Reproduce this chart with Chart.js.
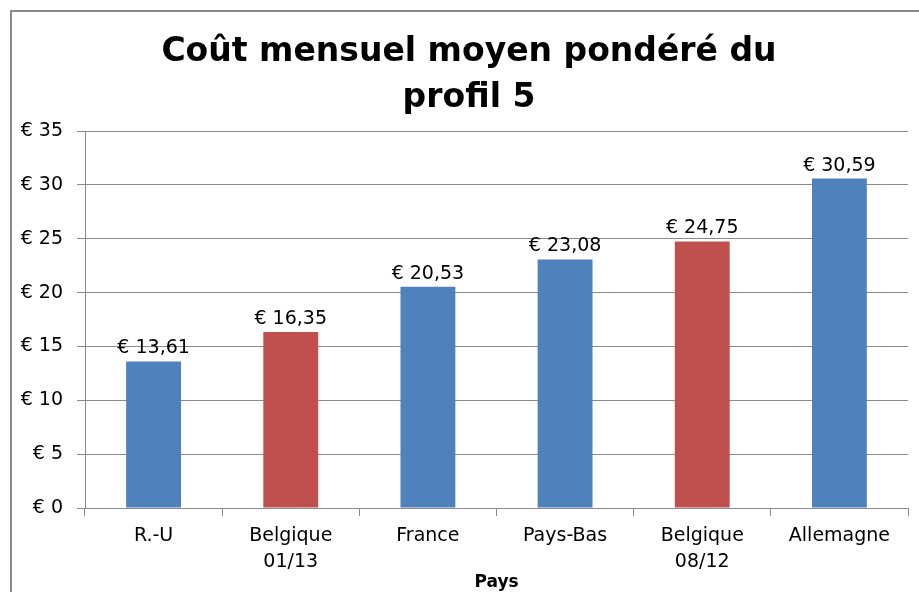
<!DOCTYPE html>
<html>
<head>
<meta charset="utf-8">
<script src="https://cdn.jsdelivr.net/npm/chart.js@4.4.0/dist/chart.umd.min.js"></script>
<style>
  html, body { margin: 0; padding: 0; background: #fff; }
  #wrap { position: relative; width: 919px; height: 592px; overflow: hidden; }
  #frame { position: absolute; left: 10px; top: 10px; width: 1000px; height: 700px;
           border-left: 2px solid #8a8a8a; border-top: 2px solid #8a8a8a; }
  canvas { position: absolute; left: 0; top: 0; }
</style>
</head>
<body>
<div id="wrap">
  <div id="frame"></div>
  <canvas id="c" width="919" height="592"></canvas>
</div>
<script>
const titleLines = ['Coût mensuel moyen pondéré du', 'profil 5'];
const categories = [['R.-U'], ['Belgique', '01/13'], ['France'], ['Pays-Bas'], ['Belgique', '08/12'], ['Allemagne']];
const values = [13.61, 16.35, 20.53, 23.08, 24.75, 30.59];
const barColors = ['#4F81BD', '#C0504D', '#4F81BD', '#4F81BD', '#C0504D', '#4F81BD'];
const yTicks = [0, 5, 10, 15, 20, 25, 30, 35];
const axisTitle = 'Pays';

const fmt = v => '€ ' + v.toFixed(2).replace('.', ',');
const FONT = '"DejaVu Sans", "Open Sans", sans-serif';

const labelPlugin = {
  id: 'valueLabels',
  afterLayout(chart) {
    // shift the title block slightly right, as in the reference
    if (chart.titleBlock) { chart.titleBlock.left += 16; }
  },
  afterDatasetsDraw(chart) {
    const ctx = chart.ctx;
    const meta = chart.getDatasetMeta(0);
    ctx.save();
    ctx.font = '19px ' + FONT;
    ctx.fillStyle = '#000';
    ctx.textAlign = 'center';
    ctx.textBaseline = 'alphabetic';
    meta.data.forEach((bar, i) => {
      ctx.fillText(fmt(values[i]), bar.x, bar.y - 8);
    });
    ctx.restore();
  }
};

new Chart(document.getElementById('c'), {
  type: 'bar',
  data: {
    labels: categories,
    datasets: [{
      data: values,
      backgroundColor: barColors,
      borderWidth: 0,
      barPercentage: 0.4,
      categoryPercentage: 1.0
    }]
  },
  options: {
    responsive: false,
    animation: false,
    devicePixelRatio: 1,
    layout: { padding: { left: 14, right: 11, top: 29, bottom: 0 } },
    plugins: {
      legend: { display: false },
      tooltip: { enabled: false },
      title: {
        display: true,
        text: titleLines,
        color: '#000',
        font: { family: FONT, size: 33, weight: 'bold', lineHeight: 46 / 33 },
        padding: { top: 0, bottom: 10 }
      }
    },
    scales: {
      x: {
        grid: { display: true, drawOnChartArea: false, drawTicks: true, tickLength: 8, color: '#8a8a8a', offset: true },
        border: { display: true, color: '#8a8a8a', width: 1 },
        ticks: { color: '#000', font: { family: FONT, size: 19, lineHeight: 1.32 }, padding: 8, maxRotation: 0, autoSkip: false },
        title: { display: true, text: axisTitle, color: '#000', font: { family: FONT, size: 17, weight: 'bold', lineHeight: 1.1 }, padding: { top: 0, bottom: 0 } },
        afterFit: s => { s.height = 84; }
      },
      y: {
        min: 0, max: 35,
        afterBuildTicks: s => { s.ticks = yTicks.map(v => ({ value: v })); },
        grid: { display: true, drawOnChartArea: true, drawTicks: true, tickLength: 8, color: '#8a8a8a' },
        border: { display: true, color: '#8a8a8a', width: 1 },
        ticks: { color: '#000', font: { family: FONT, size: 19 }, padding: 14, callback: v => '€ ' + v },
        afterFit: s => { s.width = 71; }
      }
    }
  },
  plugins: [labelPlugin]
});
</script>
</body>
</html>
